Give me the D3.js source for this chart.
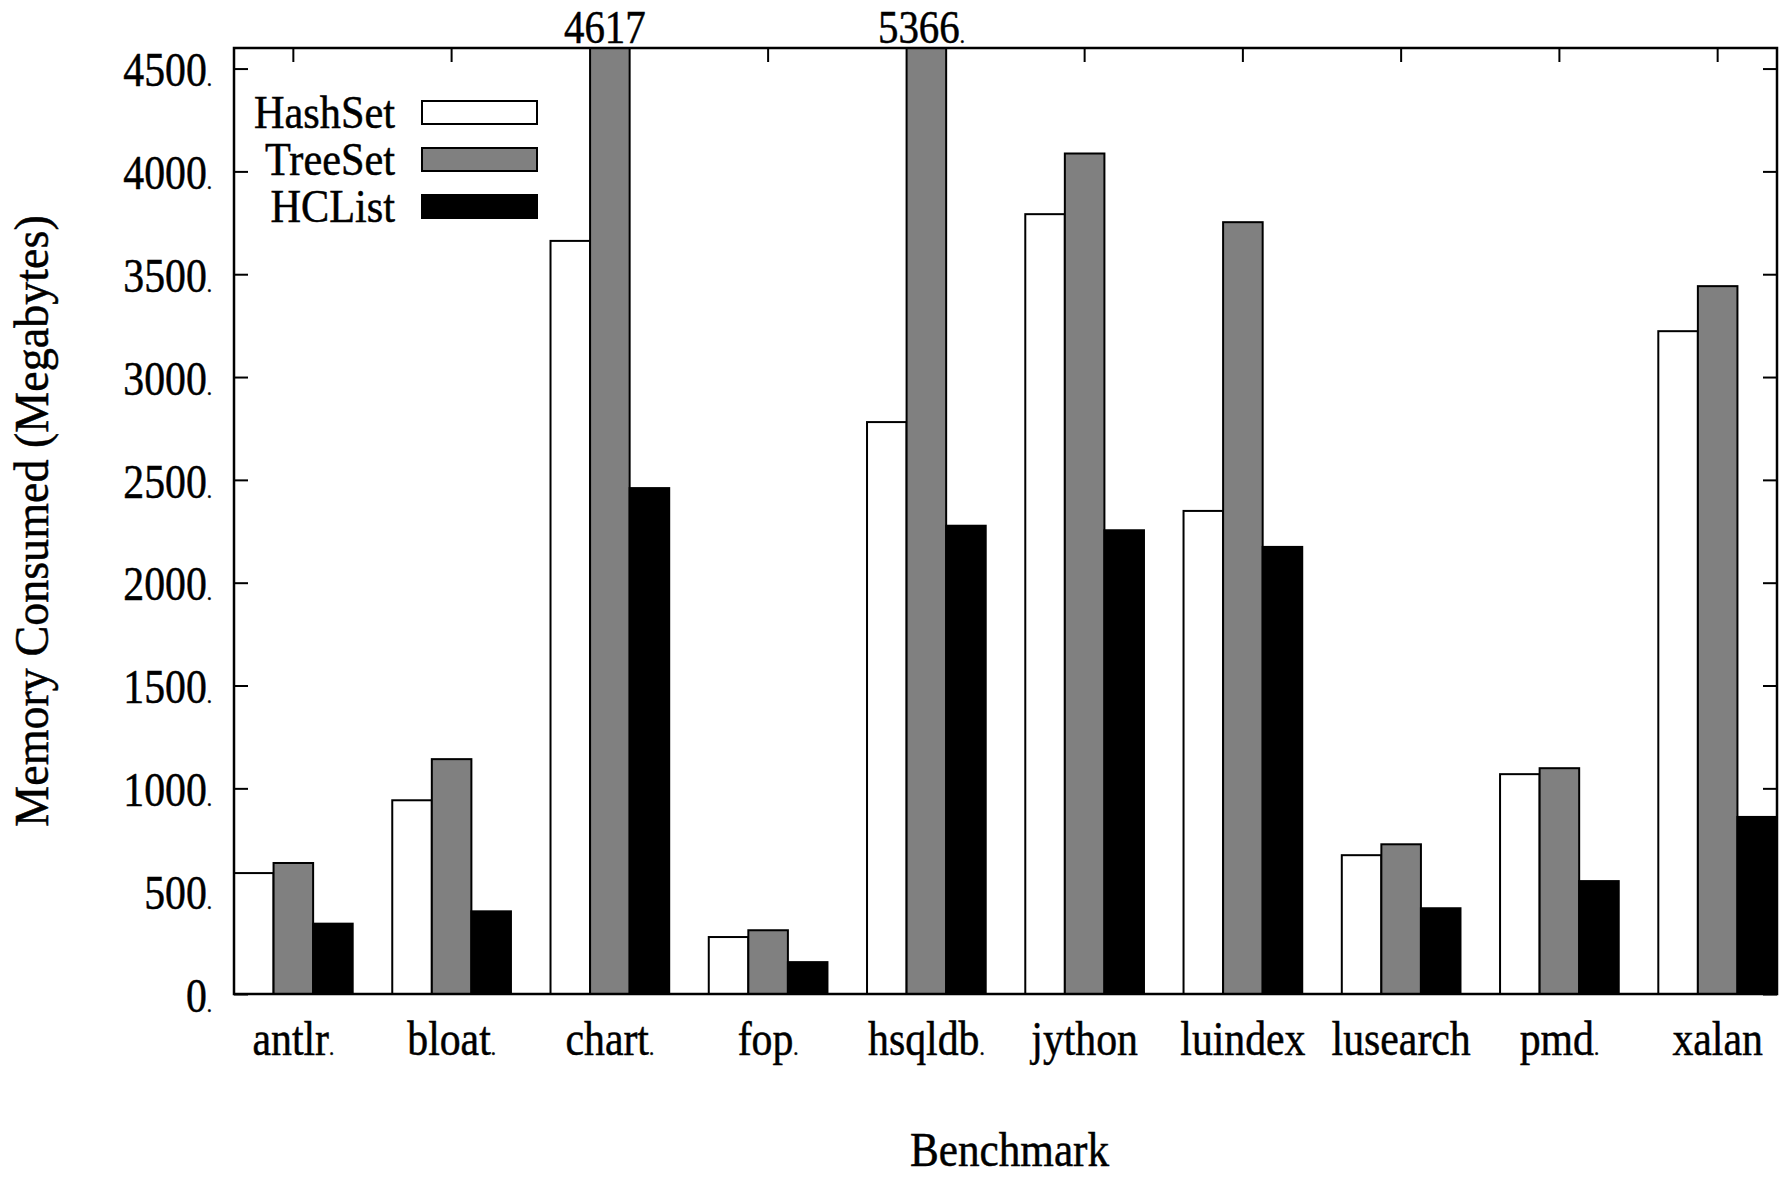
<!DOCTYPE html>
<html>
<head>
<meta charset="utf-8">
<script src="https://cdn.jsdelivr.net/npm/d3@7"></script>
<style>
  body { margin: 0; background: #fff; }
  text { font-family: "Liberation Serif", "Times New Roman", serif; fill: #000; stroke: #000; stroke-width: 0.5px; }
</style>
</head>
<body>
<div id="chart"></div>
<script>
var benchmarks = ['antlr', 'bloat', 'chart', 'fop', 'hsqldb', 'jython', 'luindex', 'lusearch', 'pmd', 'xalan'];
var benchmarkLabels = ['antlr.', 'bloat.', 'chart.', 'fop.', 'hsqldb.', 'jython', 'luindex', 'lusearch', 'pmd.', 'xalan'];
var seriesNames = ['HashSet', 'TreeSet', 'HCList'];
var seriesFills = ['#ffffff', '#808080', '#000000'];
var hashSet = [588, 942, 3662, 277, 2781, 3792, 2349, 675, 1069, 3223];
var treeSet = [637, 1142, 4617, 310, 5366, 4087, 3753, 728, 1098, 3442];
var hcList  = [342, 402, 2460, 155, 2277, 2255, 2174, 417, 549, 861];
var yTicks = [0, 500, 1000, 1500, 2000, 2500, 3000, 3500, 4000, 4500];
var yTickLabels = ['0.', '500.', '1000.', '1500.', '2000.', '2500.', '3000.', '3500.', '4000.', '4500.'];
var overflowLabels = ['4617', '5366.'];
var yMax = 4600;

var W = 1787, H = 1177;
var margin = { top: 48, right: 10, bottom: 183, left: 234 },
    width = W - margin.left - margin.right,
    height = H - margin.top - margin.bottom;
var sx = 0.87; // narrow serif look

var series = [hashSet, treeSet, hcList];

var svg = d3.select('#chart').append('svg')
    .attr('width', W)
    .attr('height', H)
  .append('g')
    .attr('transform', 'translate(' + margin.left + ',' + margin.top + ')');

var x = d3.scaleBand()
    .domain(benchmarks)
    .range([0, width])
    .paddingInner(0.25)
    .paddingOuter(0);

var xs = d3.scaleBand()
    .domain(seriesNames)
    .range([0, x.bandwidth()]);

var y = d3.scaleLinear()
    .domain([0, yMax])
    .range([height, 0])
    .clamp(true);

// put text with a small trailing dot
function setLabel(sel, str) {
    sel.each(function(d, i) {
        var s = typeof str === 'function' ? str(d, i) : str;
        var t = d3.select(this);
        if (s.slice(-1) === '.') {
            t.text(s.slice(0, -1));
            t.append('tspan').attr('font-size', '0.5em').text('.');
        } else {
            t.text(s);
        }
    });
}

// ticks (drawn under bars)
var gx = svg.append('g')
    .attr('transform', 'translate(0,' + height + ')')
    .call(d3.axisBottom(x).tickSizeInner(-14).tickSizeOuter(0));
gx.select('.domain').remove();
gx.selectAll('line').attr('stroke-width', 2);
gx.selectAll('text')
    .attr('y', 61)
    .attr('dy', 0)
    .attr('font-size', 48)
    .attr('transform', 'scale(' + sx + ',1)')
    .call(setLabel, function(d, i) { return benchmarkLabels[i]; });

var gxt = svg.append('g')
    .call(d3.axisTop(x).tickSizeInner(-14).tickSizeOuter(0).tickFormat(''));
gxt.select('.domain').remove();
gxt.selectAll('line').attr('stroke-width', 2);

var gy = svg.append('g')
    .call(d3.axisLeft(y).tickValues(yTicks).tickSizeInner(-14).tickSizeOuter(0));
gy.select('.domain').remove();
gy.selectAll('line').attr('stroke-width', 2);
gy.selectAll('text')
    .attr('x', -22 / sx)
    .attr('dy', '0.36em')
    .attr('font-size', 48)
    .attr('transform', 'scale(' + sx + ',1)')
    .call(setLabel, function(d, i) { return yTickLabels[i]; });

var gyr = svg.append('g')
    .attr('transform', 'translate(' + width + ',0)')
    .call(d3.axisRight(y).tickValues(yTicks).tickSizeInner(-14).tickSizeOuter(0).tickFormat(''));
gyr.select('.domain').remove();
gyr.selectAll('line').attr('stroke-width', 2);

// bars
var groups = svg.selectAll('g.grp')
    .data(benchmarks)
    .enter()
    .append('g')
    .attr('class', 'grp')
    .attr('transform', function(d) { return 'translate(' + x(d) + ',0)'; });

groups.selectAll('rect')
    .data(function(d, i) {
        return seriesNames.map(function(s, j) { return { s: s, j: j, v: series[j][i] }; });
    })
    .enter()
    .append('rect')
    .attr('x', function(d) { return xs(d.s); })
    .attr('y', function(d) { return y(d.v); })
    .attr('width', xs.bandwidth())
    .attr('height', function(d) { return height - y(d.v); })
    .attr('fill', function(d) { return seriesFills[d.j]; })
    .attr('stroke', '#000')
    .attr('stroke-width', 2);

// values of the bars that run off the top
var over = [];
benchmarks.forEach(function(b, i) {
    if (treeSet[i] > yMax) over.push({ b: b, v: treeSet[i] });
});
svg.selectAll('text.over')
    .data(over)
    .enter()
    .append('text')
    .attr('class', 'over')
    .attr('font-size', 47)
    .attr('text-anchor', 'middle')
    .attr('transform', function(d) {
        return 'translate(' + (x(d.b) + xs('TreeSet') + xs.bandwidth() / 2 - 5) + ',-5) scale(' + sx + ',1)';
    })
    .call(setLabel, function(d, i) { return overflowLabels[i]; });

// frame
svg.append('rect')
    .attr('width', width)
    .attr('height', height)
    .attr('fill', 'none')
    .attr('stroke', '#000')
    .attr('stroke-width', 2.5);

// legend
var legend = svg.selectAll('g.leg')
    .data(seriesNames)
    .enter()
    .append('g')
    .attr('class', 'leg')
    .attr('transform', function(d, i) { return 'translate(0,' + (53 + i * 47) + ')'; });

legend.append('rect')
    .attr('x', 188)
    .attr('y', 0)
    .attr('width', 115)
    .attr('height', 23)
    .attr('fill', function(d, i) { return seriesFills[i]; })
    .attr('stroke', '#000')
    .attr('stroke-width', 2);

legend.append('text')
    .attr('text-anchor', 'end')
    .attr('font-size', 46)
    .attr('transform', 'translate(161,27) scale(0.92,1)')
    .text(function(d) { return d; });

// axis titles
svg.append('text')
    .attr('text-anchor', 'middle')
    .attr('font-size', 48)
    .attr('transform', 'translate(' + (width / 2 + 4) + ',' + (height + 172) + ') scale(0.9,1)')
    .text('Benchmark');

svg.append('text')
    .attr('text-anchor', 'middle')
    .attr('font-size', 48)
    .attr('transform', 'translate(-186,' + (height / 2 + 0) + ') rotate(-90) scale(0.96,1)')
    .text('Memory Consumed (Megabytes)');
</script>
</body>
</html>
